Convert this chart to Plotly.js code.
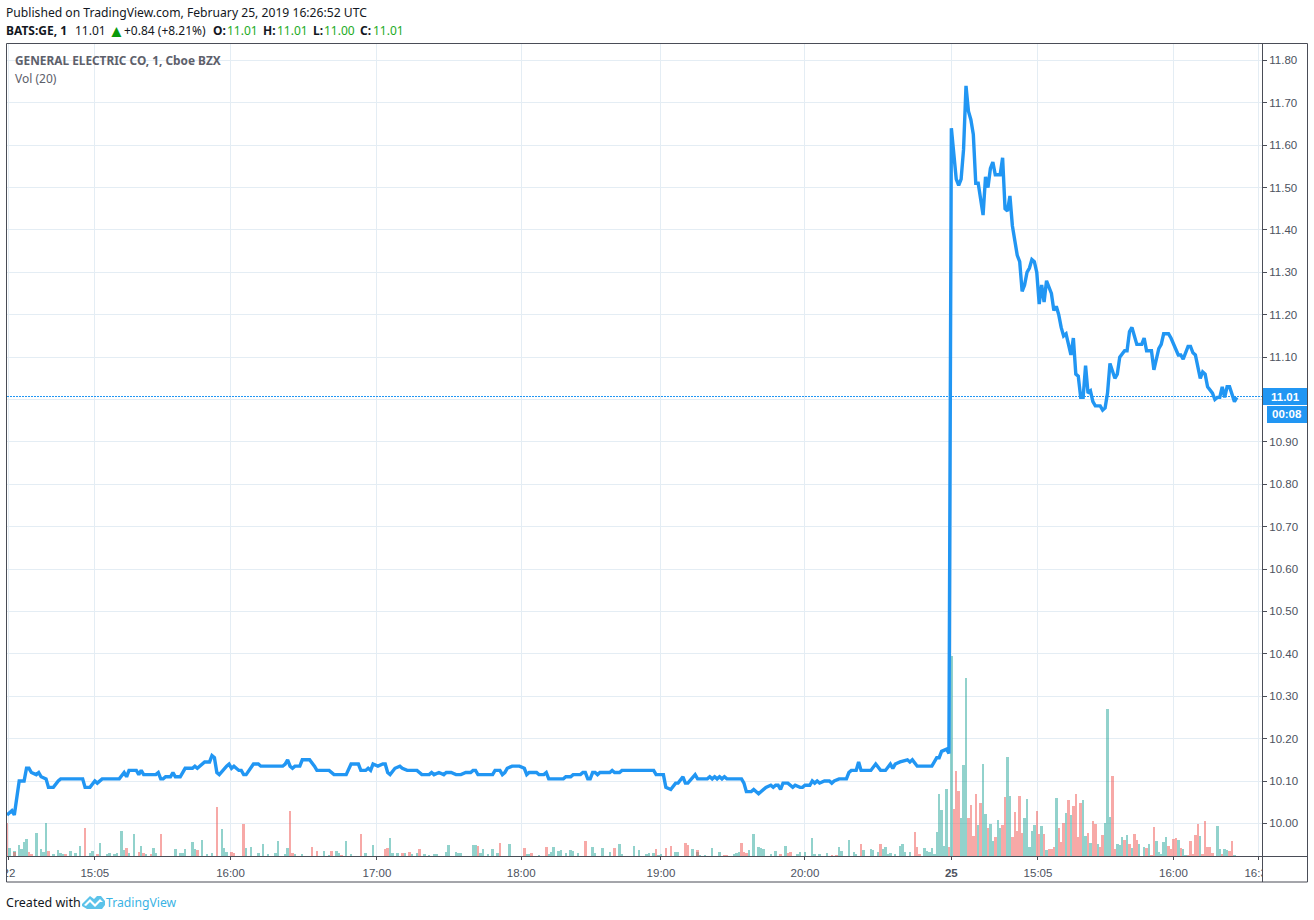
<!DOCTYPE html>
<html>
<head>
<meta charset="utf-8">
<script src="https://cdn.plot.ly/plotly-3.0.1.min.js"></script>
<style>html,body{margin:0;padding:0;background:#fff}#chart{width:1314px;height:920px}</style>
</head>
<body>
<div id="chart"></div>
<script>
// Bar index (one per traded minute) of each visible vertex of the price line
const lineBar = [0,2,3,4,5,7,8,9,10,12,13,14,16,17,19,21,22,31,32,34,36,37,39,46,48,49,50,53,54,55,56,61,62,63,64,65,67,68,69,71,73,76,77,78,81,83,84,85,86,87,89,90,91,92,93,95,96,97,98,101,103,104,113,114,115,116,117,118,120,121,123,124,126,127,132,134,139,140,141,144,145,147,148,149,150,152,154,155,156,157,159,161,162,164,168,170,173,174,175,177,
179,180,182,184,186,188,190,191,192,193,199,200,202,203,204,205,207,210,212,213,214,217,218,220,221,222,228,229,231,232,235,236,237,238,239,240,241,242,243,247,248,249,251,252,265,266,269,270,272,274,275,277,278,279,282,283,287,288,289,290,291,292,293,294,295,301,302,303,305,306,308,311,313,314,315,316,317,318,320,322,323,325,326,327,329,330,331,332,333,335,337,338,339,341,344,345,346,348,349,350,354,356,358,
360,362,363,364,366,369,370,371,373,379,381,382,383,385,386,
387,388,389,390,391,392,393,394,395,396,397,398,400,401,402,403,404,405,407,408,409,410,411,412,414,415,416,417,418,419,420,421,422,423,424,425,426,428,429,430,431,432,433,434,436,437,438,439,440,441,442,443,444,445,446,448,449,450,451,452,454,455,456,458,459,460,461,463,465,466,467,469,470,472,473,474,476,477,479,480,481,482,484,485,486,487,489,490,491,492,494,495,496,497,498,499,500,501,503,504];
// Price (USD) at each of those vertices
const linePrice = [10.02,10.03,10.02,10.065,10.10,10.10,10.13,10.13,10.12,10.115,10.12,10.11,10.105,10.085,10.085,10.10,10.105,10.105,10.085,10.085,10.10,10.095,10.105,10.105,10.12,10.11,10.125,10.125,10.115,10.125,10.115,10.115,10.12,10.105,10.105,10.11,10.11,10.12,10.11,10.11,10.13,10.13,10.135,10.13,10.145,10.145,10.16,10.155,10.12,10.115,10.13,10.135,10.14,10.13,10.135,10.125,10.125,10.115,10.115,10.14,10.14,10.135,10.135,10.14,10.15,10.135,10.13,10.135,10.135,10.15,10.15,10.15,10.135,10.125,10.125,10.115,10.115,10.13,10.14,10.14,10.125,10.125,10.13,10.125,10.14,10.135,10.14,10.14,10.12,10.115,10.13,10.135,10.13,10.125,10.125,10.115,10.115,10.12,10.115,10.12,
10.115,10.12,10.12,10.115,10.115,10.12,10.12,10.125,10.125,10.115,10.115,10.125,10.125,10.115,10.12,10.13,10.135,10.135,10.13,10.115,10.12,10.12,10.115,10.115,10.12,10.105,10.105,10.11,10.11,10.115,10.115,10.12,10.12,10.105,10.105,10.12,10.12,10.115,10.12,10.12,10.125,10.12,10.12,10.125,10.125,10.115,10.115,10.085,10.08,10.095,10.095,10.11,10.095,10.095,10.115,10.105,10.105,10.11,10.105,10.11,10.105,10.11,10.105,10.11,10.105,10.105,10.095,10.075,10.075,10.08,10.07,10.085,10.09,10.085,10.09,10.09,10.08,10.095,10.095,10.085,10.09,10.085,10.085,10.09,10.09,10.10,10.095,10.10,10.095,10.10,10.10,10.095,10.10,10.105,10.105,10.12,10.125,10.125,10.145,10.125,10.125,10.14,10.125,
10.125,10.14,10.13,10.14,10.145,10.15,10.145,10.15,10.135,10.135,10.155,10.155,10.17,10.175,10.165,
11.64,11.58,11.52,11.505,11.52,11.59,11.74,11.68,11.66,11.625,11.51,11.51,11.435,11.525,11.50,11.545,11.56,11.53,11.53,11.57,11.45,11.445,11.48,11.41,11.34,11.325,11.255,11.27,11.30,11.31,11.33,11.325,11.30,11.225,11.27,11.23,11.28,11.25,11.21,11.22,11.20,11.17,11.15,11.155,11.105,11.145,11.06,11.055,11.005,11.005,11.08,11.015,11.02,10.995,10.985,10.985,10.975,10.98,11.015,11.085,11.05,11.06,11.10,11.115,11.115,11.16,11.17,11.13,11.13,11.145,11.115,11.115,11.07,11.12,11.13,11.155,11.155,11.145,11.115,11.105,11.105,11.095,11.125,11.125,11.11,11.105,11.05,11.065,11.06,11.03,11.015,11.00,11.005,11.005,11.03,11.005,11.03,11.03,10.995,11.005];

// Volume bars, relative heights. Ten per row.
const upBar = [
1,3,5,6,7,8,12,14,15,16, 19,21,22,23,26,28,30,34,35,38,
41,42,44,45,47,48,50,52,55,57, 60,61,69,71,72,73,76,77,80,82,
84,88,89,90,98,100,103,105,107,110, 111,114,115,118,121,130,132,135,136,139,
141,147,150,157,158,160,163,166,168,171, 173,175,176,
180,181,184,185,186,191,192, 194,195,197,199,201,206,213,214,218,222,
223,224,226,227,229,231,232,234,240,241, 244,247,251,252,257,259,262,263,265,267,
268,274,275,281,283,284,286,289,292,298, 299,300,304,306,308,309,310,313,315,319,
324,325,327,330,331,333,336,341,342,345, 347,348,351,354,355,357,
359,360,361,362, 364,366,367,368,370,376,377,378,379,380,
381,382,383,384,385,387,391,392,393,398, 400,401,403,404,406,407,410,411,417,418,
419,420,421,424,426,430,434,436,441,442, 444,447,450,451,452,455,456,457,459,461,
464,466,468,471,472,473,474,475,480,482, 483,489,496,497,499,500,503];
const upVol = [
8,5,11,7,14,17,23,7,4,33, 2,6,3,2,5,3,10,3,5,13,
2,3,2,3,25,6,3,22,10,2, 8,3,7,3,3,7,14,7,16,2,
3,27,8,4,8,9,3,12,2,3, 15,2,8,2,2,5,1,5,3,15,
2,3,11,18,3,3,3,2,3,2, 1,2,2,
4,11,4,3,3,11,11, 3,7,2,7,3,12,2,2,1,2,
4,9,5,6,3,6,5,3,9,3, 8,4,12,2,10,6,2,3,3,1,
2,4,4,7,4,1,1,8,4,2, 3,4,6,22,9,8,7,2,5,10,
2,4,4,18,2,2,3,9,5,16, 4,2,6,7,6,4,
7,9,2,3, 2,10,12,4,4,8,5,4,8,2,
24,62,46,10,67,200,38,91,178,31, 92,42,32,15,36,28,99,60,38,57,
9,25,31,30,6,58,43,41,56,20, 13,12,33,147,39,12,11,19,21,8,
12,9,12,15,4,2,14,19,16,7, 1,20,30,7,7,6,1];

const downBar = [
0,3,9,10,17,24,32,37,49,54, 56,59,63,78,86,92,93,97,116,117,
125,127,133,137,145,155,156,162,165,169, 193,202,212,215,221,237,249,266,270,272,
278,279,283,294,295,301,302,303,317,320, 321,338,340,350,358,
372,373,374,386,388, 389,390,394,395,396,397,399,402,405,408,
409,412,413,414,415,416,422,423,425,427, 428,429,431,432,433,435,437,438,439,440,
443,445,446,448,449,453,454,458,460,462, 463,467,469,470,476,477,478,479,481,484,
485,486,487,488,490,491,492,493,494,498, 501,502];
const downVol = [
33,4,4,2,5,2,28,2,8,4, 3,2,22,6,49,4,3,32,45,3,
9,5,5,1,22,7,8,3,4,7, 10,13,8,3,9,15,8,7,8,10,
13,11,6,1,1,13,4,3,2,3, 4,1,1,12,12,
24,9,2,9,47, 85,65,38,51,20,62,53,28,19,31,
59,19,44,25,60,23,45,22,22,7, 7,9,28,14,33,56,50,62,19,53,
23,35,32,9,21,80,7,16,12,22, 16,8,1,29,10,7,17,18,8,1,
15,2,21,32,2,35,9,9,3,2, 5,15];

// Axis labels (the 11.00 label sits under the last-price tag, so it is blank)
const priceTicks = [10.0,10.1,10.2,10.3,10.4,10.5,10.6,10.7,10.8,10.9,11.0,11.1,11.2,11.3,11.4,11.5,11.6,11.7,11.8];
const priceLabels = ['10.00','10.10','10.20','10.30','10.40','10.50','10.60','10.70','10.80','10.90','','11.10','11.20','11.30','11.40','11.50','11.60','11.70','11.80'];
const timeTicks = [0.8,36,91.6,151.6,210.7,268,327,387,422.5,478,513];
const timeLabels = ['22','15:05','16:00','17:00','18:00','19:00','20:00','<b>25</b>','15:05','16:00','16:30'];

const W = 1314, H = 920, L = 7, R = 1262, T = 44, B = 856;
const px = v => (v - L) / (R - L);
const py = v => (B - v) / (B - T);
const FRAME = '#4a4d57', INK = '#4c525e', BLUE = '#2196f3', GREEN = '#22ab1e';

function text(x, y, s, o) {
  o = o || {};
  return {xref:'paper', yref:'paper', x:px(x), y:py(y), text:s, showarrow:false,
    xanchor:o.anchor || 'left', yanchor:'middle', borderpad:0, borderwidth:0,
    font:{family:o.family || '"Noto Sans", sans-serif', size:o.size || 12, color:o.color || '#131722'}};
}
function rect(x0, y0, x1, y1, fill) {
  return {type:'rect', xref:'paper', yref:'paper', x0:px(x0), x1:px(x1), y0:py(y1), y1:py(y0),
    fillcolor:fill, line:{width:0}, layer:'above'};
}
function seg(x0, y0, x1, y1) {
  return {type:'line', xref:'paper', yref:'paper', x0:px(x0), x1:px(x1), y0:py(y0), y1:py(y1),
    line:{color:FRAME, width:1}, layer:'above'};
}
function poly(pts, fill) {
  return {type:'path', xref:'paper', yref:'paper', layer:'above', fillcolor:fill, line:{width:0},
    path:'M' + pts.map(p => px(p[0]) + ',' + py(p[1])).join(' L') + ' Z'};
}

const annotations = [
  text(6, 12, 'Published on TradingView.com, February 25, 2019 16:26:52 UTC', {size:12.15}),
  text(6, 30, '<b>BATS:GE, 1</b>'),
  text(75, 30, '11.01'),
  text(107.5, 30, '▲', {color:'#0a9a0a', size:17}),
  text(124, 30, '+0.84 (+8.21%)'),
  text(213, 30, '<b>O:</b>'), text(227, 30, '11.01', {color:GREEN}),
  text(263, 30, '<b>H:</b>'), text(277, 30, '11.01', {color:GREEN}),
  text(313, 30, '<b>L:</b>'), text(324, 30, '11.00', {color:GREEN}),
  text(360, 30, '<b>C:</b>'), text(373, 30, '11.01', {color:GREEN}),
  text(15, 60, '<b>GENERAL ELECTRIC CO, 1, Cboe BZX</b>', {color:'#5d606b', size:11.85}),
  text(15, 78, 'Vol (20)', {color:'#5d606b'}),
  text(1285, 396.5, '<b>11.01</b>', {anchor:'center', color:'#fff', size:11.5, family:'"Liberation Sans", sans-serif'}),
  text(1287, 414.5, '<b>00:08</b>', {anchor:'center', color:'#fff', size:11.5, family:'"Liberation Sans", sans-serif'}),
  text(6, 902, 'Created with', {size:12.5}),
  text(106, 902, 'TradingView', {size:12.2, color:'#3bb3e4'})
];

const shapes = [
  {type:'line', xref:'paper', yref:'paper', x0:0, x1:1, y0:py(396.5), y1:py(396.5),
   line:{color:BLUE, width:1, dash:'2px,1px'}, layer:'above'},
  rect(0, 857, 6.5, 881, '#fff'),
  rect(1262, 857, 1306, 881, '#fff'),
  rect(1262.5, 388, 1307.5, 405, BLUE),
  rect(1267, 406, 1307.5, 423, BLUE),
  seg(6.5, 43.5, 1307.5, 43.5),
  seg(6.5, 882, 1307.5, 882),
  seg(6.5, 43.5, 6.5, 882),
  seg(1307.5, 43.5, 1307.5, 882),
  seg(1262.5, 43.5, 1262.5, 882),
  seg(6.5, 856.5, 1307.5, 856.5),
  poly([[82,904],[90,896],[94,899],[97,896],[101,896],[105,901],[105,905],[102,909],[87,909],[82,906]], '#5cc3ea'),
  poly([[84,905],[90,899],[95,904],[100,899],[103,902],[100,902],[95,907],[90,902],[86,906]], '#ffffff')
];

const upTrace = {type:'bar', x:upBar, y:upVol, yaxis:'y2', width:1,
  marker:{color:'rgba(38,166,154,0.5)', line:{width:0}}, hoverinfo:'skip'};
const downTrace = {type:'bar', x:downBar, y:downVol, yaxis:'y2', width:1,
  marker:{color:'rgba(239,83,80,0.5)', line:{width:0}}, hoverinfo:'skip'};
const priceTrace = {type:'scatter', mode:'lines', x:lineBar, y:linePrice, yaxis:'y',
  line:{color:BLUE, width:3.4, shape:'linear'}, hoverinfo:'skip'};

const layout = {
  width:W, height:H, autosize:false,
  margin:{l:L, r:W - R, t:T, b:H - B, pad:0},
  paper_bgcolor:'#fff', plot_bgcolor:'#fff',
  showlegend:false, hovermode:false, barmode:'overlay', bargap:0,
  xaxis:{range:[0, 514.3], tickmode:'array', tickvals:timeTicks, ticktext:timeLabels,
    showgrid:true, gridcolor:'#e4edf4', gridwidth:1, zeroline:false, showline:false,
    ticks:'outside', ticklen:3, tickcolor:FRAME, ticklabelstandoff:3,
    tickfont:{family:'"Liberation Sans", Arial, sans-serif', size:11.5, color:INK}},
  yaxis:{range:[9.9231, 11.8386], side:'right', overlaying:'y2', tickmode:'array',
    tickvals:priceTicks, ticktext:priceLabels,
    showgrid:true, gridcolor:'#e4edf4', gridwidth:1, zeroline:false, showline:false,
    ticks:'outside', ticklen:4, tickcolor:FRAME,
    tickfont:{family:'"Liberation Sans", Arial, sans-serif', size:11.5, color:INK}},
  yaxis2:{range:[0, 812], visible:false, showgrid:false, zeroline:false, fixedrange:true},
  annotations:annotations, shapes:shapes
};

Plotly.newPlot('chart', [upTrace, downTrace, priceTrace], layout, {displayModeBar:false, staticPlot:true});
</script>
</body>
</html>
